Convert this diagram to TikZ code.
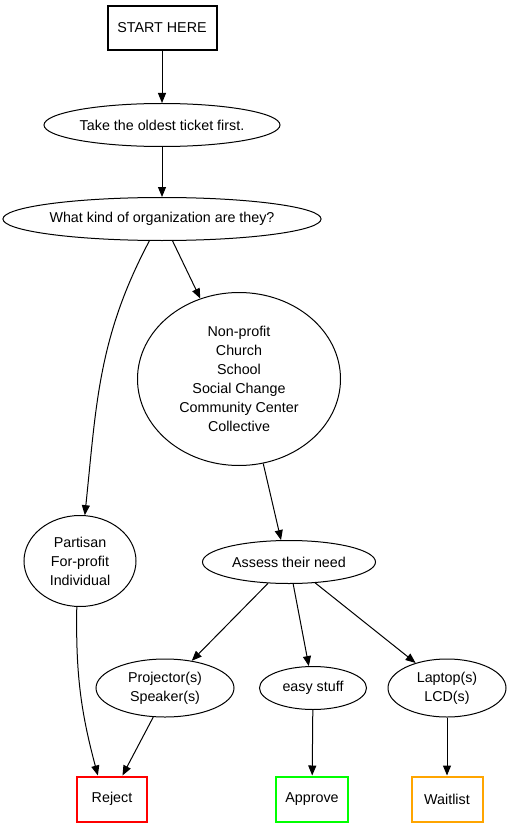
\documentclass[tikz,border=0pt]{standalone}
\usepackage{fontspec}
\setmainfont{Liberation Sans}
\usepackage{xcolor}
\usepackage{tikz}
\usetikzlibrary{arrows.meta,shapes.geometric}
\definecolor{rejectred}{HTML}{FF0000}
\definecolor{approvegreen}{HTML}{00FF00}
\definecolor{waitorange}{HTML}{FFA500}

\begin{document}
\begin{tikzpicture}[x=1pt, y=-1pt,
  every node/.style={font=\fontsize{14.3}{19}\selectfont, align=center, inner sep=0pt},
  oval/.style={draw, ellipse, line width=1pt},
  box/.style={draw, rectangle, line width=2pt, minimum height=44pt},
  flow/.style={line width=1pt, -{Triangle[length=10pt, width=8pt]}}]
\useasboundingbox (0,0) rectangle (512,829);

% --- Top of the chart ---
\node[box, minimum width=109pt] (start) at (162,28) {START HERE};
\node[oval, minimum width=236pt, minimum height=43pt] (oldest) at (162,125) {Take the oldest ticket first.};
\node[oval, minimum width=314pt, minimum height=43pt] (kind) at (162,219) {What kind of organization are they?};

% --- Organization types ---
\node[oval, minimum width=203pt, minimum height=173pt] (nonprofit) at (239,379)
  {Non-profit\\Church\\School\\Social Change\\Community Center\\Collective};
\node[oval, minimum width=112pt, minimum height=91pt] (partisan) at (80,561)
  {Partisan\\For-profit\\Individual};
\node[oval, minimum width=173pt, minimum height=43pt] (assess) at (289,562) {Assess their need};

% --- Needs ---
\node[oval, minimum width=138pt, minimum height=58pt] (projector) at (165,688) {Projector(s)\\Speaker(s)};
\node[oval, minimum width=107pt, minimum height=43pt] (easy) at (313,688) {easy stuff};
\node[oval, minimum width=118pt, minimum height=58pt] (laptop) at (447,688) {Laptop(s)\\LCD(s)};

% --- Outcomes ---
\node[box, draw=rejectred, minimum width=70pt, minimum height=45pt] (reject) at (112,799) {Reject};
\node[box, draw=approvegreen, minimum width=72pt, minimum height=45pt] (approve) at (312,799) {Approve};
\node[box, draw=waitorange, minimum width=71pt, minimum height=45pt] (waitlist) at (447,799) {Waitlist};

% Edges
\draw[flow] (start) -- (oldest);
\draw[flow] (oldest) -- (kind);
\draw[flow] (kind) -- (nonprofit);
\draw[flow] (kind.-120) to[out=-118, in=84] (partisan.84);
\draw[flow] (nonprofit.-74) -- (assess.110);
\draw[flow] (partisan.-94) to[out=-91, in=105] (reject.121);
\draw[flow] (assess) -- (projector);
\draw[flow] (assess) -- (easy);
\draw[flow] (assess) -- (laptop);
\draw[flow] (projector.-112) -- (reject.66);
\draw[flow] (easy) -- (approve);
\draw[flow] (laptop) -- (waitlist);
\end{tikzpicture}
\end{document}
